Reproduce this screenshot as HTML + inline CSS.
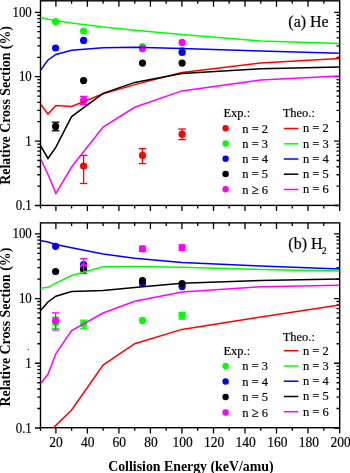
<!DOCTYPE html><html><head><meta charset="utf-8"><style>html,body{margin:0;padding:0;background:#fff;width:350px;height:473px;overflow:hidden}svg{display:block;will-change:transform}text{font-family:"Liberation Serif",serif}</style></head><body>
<svg width="350" height="473" viewBox="0 0 350 473">
<defs><clipPath id="ct"><rect x="40.5" y="0.8" width="299.2" height="204.6"/></clipPath><clipPath id="cb"><rect x="40.5" y="222.9" width="299.2" height="204.8"/></clipPath></defs>
<rect x="40.5" y="0.8" width="299.2" height="204.6" fill="none" stroke="#000" stroke-width="1.4"/>
<path d="M40.5 205.4v3.0M55.9 205.4v5.6M55.9 0.8v6.0M71.6 205.4v3.0M71.6 0.8v3.0M87.4 205.4v5.6M87.4 0.8v6.0M103.1 205.4v3.0M103.1 0.8v3.0M118.9 205.4v5.6M118.9 0.8v6.0M134.7 205.4v3.0M134.7 0.8v3.0M150.4 205.4v5.6M150.4 0.8v6.0M166.2 205.4v3.0M166.2 0.8v3.0M181.9 205.4v5.6M181.9 0.8v6.0M197.7 205.4v3.0M197.7 0.8v3.0M213.5 205.4v5.6M213.5 0.8v6.0M229.2 205.4v3.0M229.2 0.8v3.0M245.0 205.4v5.6M245.0 0.8v6.0M260.7 205.4v3.0M260.7 0.8v3.0M276.5 205.4v5.6M276.5 0.8v6.0M292.3 205.4v3.0M292.3 0.8v3.0M308.0 205.4v5.6M308.0 0.8v6.0M323.8 205.4v3.0M323.8 0.8v3.0M339.7 205.4v5.6M40.50 205.50h-5.60M339.70 205.50h-5.60M40.50 186.11h-3.20M339.70 186.11h-3.20M40.50 174.77h-3.20M339.70 174.77h-3.20M40.50 166.73h-3.20M339.70 166.73h-3.20M40.50 160.49h-3.20M339.70 160.49h-3.20M40.50 155.39h-3.20M339.70 155.39h-3.20M40.50 151.08h-3.20M339.70 151.08h-3.20M40.50 147.34h-3.20M339.70 147.34h-3.20M40.50 144.05h-3.20M339.70 144.05h-3.20M40.50 141.10h-5.60M339.70 141.10h-5.60M40.50 121.71h-3.20M339.70 121.71h-3.20M40.50 110.37h-3.20M339.70 110.37h-3.20M40.50 102.33h-3.20M339.70 102.33h-3.20M40.50 96.09h-3.20M339.70 96.09h-3.20M40.50 90.99h-3.20M339.70 90.99h-3.20M40.50 86.68h-3.20M339.70 86.68h-3.20M40.50 82.94h-3.20M339.70 82.94h-3.20M40.50 79.65h-3.20M339.70 79.65h-3.20M40.50 76.70h-5.60M339.70 76.70h-5.60M40.50 57.31h-3.20M339.70 57.31h-3.20M40.50 45.97h-3.20M339.70 45.97h-3.20M40.50 37.93h-3.20M339.70 37.93h-3.20M40.50 31.69h-3.20M339.70 31.69h-3.20M40.50 26.59h-3.20M339.70 26.59h-3.20M40.50 22.28h-3.20M339.70 22.28h-3.20M40.50 18.54h-3.20M339.70 18.54h-3.20M40.50 15.25h-3.20M339.70 15.25h-3.20M40.50 12.30h-5.60M339.70 12.30h-5.60" stroke="#000" stroke-width="1.3" fill="none"/>
<text transform="translate(31.80,16.90) scale(1,1.100)" font-size="12.90" text-anchor="end" stroke="#000" stroke-width="0.18">100</text>
<text transform="translate(31.80,81.30) scale(1,1.100)" font-size="12.90" text-anchor="end" stroke="#000" stroke-width="0.18">10</text>
<text transform="translate(31.80,145.70) scale(1,1.100)" font-size="12.90" text-anchor="end" stroke="#000" stroke-width="0.18">1</text>
<text transform="translate(31.80,210.10) scale(1,1.100)" font-size="12.90" text-anchor="end" stroke="#000" stroke-width="0.18">0.1</text>
<rect x="40.5" y="222.9" width="299.2" height="204.8" fill="none" stroke="#000" stroke-width="1.4"/>
<path d="M40.5 427.8v3.0M55.9 427.8v5.6M55.9 222.9v6.0M71.6 427.8v3.0M71.6 222.9v3.0M87.4 427.8v5.6M87.4 222.9v6.0M103.1 427.8v3.0M103.1 222.9v3.0M118.9 427.8v5.6M118.9 222.9v6.0M134.7 427.8v3.0M134.7 222.9v3.0M150.4 427.8v5.6M150.4 222.9v6.0M166.2 427.8v3.0M166.2 222.9v3.0M181.9 427.8v5.6M181.9 222.9v6.0M197.7 427.8v3.0M197.7 222.9v3.0M213.5 427.8v5.6M213.5 222.9v6.0M229.2 427.8v3.0M229.2 222.9v3.0M245.0 427.8v5.6M245.0 222.9v6.0M260.7 427.8v3.0M260.7 222.9v3.0M276.5 427.8v5.6M276.5 222.9v6.0M292.3 427.8v3.0M292.3 222.9v3.0M308.0 427.8v5.6M308.0 222.9v6.0M323.8 427.8v3.0M323.8 222.9v3.0M339.7 427.8v5.6M40.50 427.99h-5.60M339.70 427.99h-5.60M40.50 408.50h-3.20M339.70 408.50h-3.20M40.50 397.11h-3.20M339.70 397.11h-3.20M40.50 389.02h-3.20M339.70 389.02h-3.20M40.50 382.75h-3.20M339.70 382.75h-3.20M40.50 377.62h-3.20M339.70 377.62h-3.20M40.50 373.29h-3.20M339.70 373.29h-3.20M40.50 369.53h-3.20M339.70 369.53h-3.20M40.50 366.22h-3.20M339.70 366.22h-3.20M40.50 363.26h-5.60M339.70 363.26h-5.60M40.50 343.77h-3.20M339.70 343.77h-3.20M40.50 332.38h-3.20M339.70 332.38h-3.20M40.50 324.29h-3.20M339.70 324.29h-3.20M40.50 318.02h-3.20M339.70 318.02h-3.20M40.50 312.89h-3.20M339.70 312.89h-3.20M40.50 308.56h-3.20M339.70 308.56h-3.20M40.50 304.80h-3.20M339.70 304.80h-3.20M40.50 301.49h-3.20M339.70 301.49h-3.20M40.50 298.53h-5.60M339.70 298.53h-5.60M40.50 279.04h-3.20M339.70 279.04h-3.20M40.50 267.65h-3.20M339.70 267.65h-3.20M40.50 259.56h-3.20M339.70 259.56h-3.20M40.50 253.29h-3.20M339.70 253.29h-3.20M40.50 248.16h-3.20M339.70 248.16h-3.20M40.50 243.83h-3.20M339.70 243.83h-3.20M40.50 240.07h-3.20M339.70 240.07h-3.20M40.50 236.76h-3.20M339.70 236.76h-3.20M40.50 233.80h-5.60M339.70 233.80h-5.60" stroke="#000" stroke-width="1.3" fill="none"/>
<text transform="translate(31.80,238.40) scale(1,1.100)" font-size="12.90" text-anchor="end" stroke="#000" stroke-width="0.18">100</text>
<text transform="translate(31.80,303.13) scale(1,1.100)" font-size="12.90" text-anchor="end" stroke="#000" stroke-width="0.18">10</text>
<text transform="translate(31.80,367.86) scale(1,1.100)" font-size="12.90" text-anchor="end" stroke="#000" stroke-width="0.18">1</text>
<text transform="translate(31.80,432.59) scale(1,1.100)" font-size="12.90" text-anchor="end" stroke="#000" stroke-width="0.18">0.1</text>
<text transform="translate(56.11,447.30) scale(1,1.100)" font-size="13.50" text-anchor="middle" stroke="#000" stroke-width="0.18">20</text>
<text transform="translate(87.71,447.30) scale(1,1.100)" font-size="13.50" text-anchor="middle" stroke="#000" stroke-width="0.18">40</text>
<text transform="translate(119.31,447.30) scale(1,1.100)" font-size="13.50" text-anchor="middle" stroke="#000" stroke-width="0.18">60</text>
<text transform="translate(150.91,447.30) scale(1,1.100)" font-size="13.50" text-anchor="middle" stroke="#000" stroke-width="0.18">80</text>
<text transform="translate(182.51,447.30) scale(1,1.100)" font-size="13.50" text-anchor="middle" stroke="#000" stroke-width="0.18">100</text>
<text transform="translate(214.11,447.30) scale(1,1.100)" font-size="13.50" text-anchor="middle" stroke="#000" stroke-width="0.18">120</text>
<text transform="translate(245.71,447.30) scale(1,1.100)" font-size="13.50" text-anchor="middle" stroke="#000" stroke-width="0.18">140</text>
<text transform="translate(277.31,447.30) scale(1,1.100)" font-size="13.50" text-anchor="middle" stroke="#000" stroke-width="0.18">160</text>
<text transform="translate(308.91,447.30) scale(1,1.100)" font-size="13.50" text-anchor="middle" stroke="#000" stroke-width="0.18">180</text>
<text transform="translate(340.51,447.30) scale(1,1.100)" font-size="13.50" text-anchor="middle" stroke="#000" stroke-width="0.18">200</text>
<text x="190.9" y="471.2" font-size="13.85" font-weight="bold" text-anchor="middle">Collision Energy (keV/amu)</text>
<text transform="translate(10.1,105.4) rotate(-90)" font-size="13.87" font-weight="bold" text-anchor="middle">Relative Cross Section (%)</text>
<text transform="translate(10.1,327.1) rotate(-90)" font-size="13.87" font-weight="bold" text-anchor="middle">Relative Cross Section (%)</text>
<text transform="translate(288.30,27.30) scale(1,1.000)" font-size="16.00" text-anchor="start" stroke="#000" stroke-width="0.18">(a) He</text>
<text transform="translate(288.30,248.70) scale(1,1.000)" font-size="16.00" text-anchor="start" stroke="#000" stroke-width="0.18">(b) H</text>
<text transform="translate(321.70,253.90) scale(1,1.000)" font-size="9.50" text-anchor="start" stroke="#000" stroke-width="0.18">2</text>
<g stroke="#ff0000" stroke-width="1.3"><line x1="83.6" y1="155.4" x2="83.6" y2="183.5"/><line x1="79.8" y1="155.4" x2="87.4" y2="155.4"/><line x1="79.8" y1="183.5" x2="87.4" y2="183.5"/></g>
<circle cx="83.6" cy="166.0" r="3.60" fill="#ff0000"/>
<g stroke="#ff0000" stroke-width="1.3"><line x1="142.5" y1="148.6" x2="142.5" y2="163.6"/><line x1="138.7" y1="148.6" x2="146.3" y2="148.6"/><line x1="138.7" y1="163.6" x2="146.3" y2="163.6"/></g>
<circle cx="142.5" cy="155.4" r="3.60" fill="#ff0000"/>
<g stroke="#ff0000" stroke-width="1.3"><line x1="182.1" y1="129.0" x2="182.1" y2="139.6"/><line x1="178.3" y1="129.0" x2="185.9" y2="129.0"/><line x1="178.3" y1="139.6" x2="185.9" y2="139.6"/></g>
<circle cx="182.1" cy="134.2" r="3.60" fill="#ff0000"/>
<circle cx="55.6" cy="21.6" r="3.60" fill="#00ff00"/>
<circle cx="83.6" cy="31.0" r="3.60" fill="#00ff00"/>
<circle cx="142.5" cy="46.6" r="3.60" fill="#00ff00"/>
<circle cx="182.1" cy="50.4" r="3.60" fill="#00ff00"/>
<circle cx="55.6" cy="48.0" r="3.60" fill="#0000ff"/>
<circle cx="83.6" cy="40.4" r="3.60" fill="#0000ff"/>
<circle cx="182.1" cy="52.5" r="3.60" fill="#0000ff"/>
<g stroke="#000000" stroke-width="1.3"><line x1="55.6" y1="122.2" x2="55.6" y2="130.8"/><line x1="51.8" y1="122.2" x2="59.4" y2="122.2"/><line x1="51.8" y1="130.8" x2="59.4" y2="130.8"/></g>
<circle cx="55.6" cy="126.4" r="3.60" fill="#000000"/>
<circle cx="83.6" cy="80.6" r="3.60" fill="#000000"/>
<circle cx="142.5" cy="63.1" r="3.60" fill="#000000"/>
<circle cx="182.1" cy="63.1" r="3.60" fill="#000000"/>
<g stroke="#ff00ff" stroke-width="1.3"><line x1="83.6" y1="96.4" x2="83.6" y2="104.5"/><line x1="79.8" y1="96.4" x2="87.4" y2="96.4"/><line x1="79.8" y1="104.5" x2="87.4" y2="104.5"/></g>
<circle cx="83.6" cy="100.4" r="3.60" fill="#ff00ff"/>
<circle cx="142.5" cy="48.7" r="3.60" fill="#ff00ff"/>
<circle cx="182.1" cy="42.4" r="3.60" fill="#ff00ff"/>
<polyline points="40.1,103.5 48.0,114.0 55.9,105.4 71.6,106.5 103.1,93.7 134.7,84.6 181.9,72.5 260.7,63.1 339.5,58.4" fill="none" stroke="#ff0000" stroke-width="1.50" stroke-linejoin="miter" clip-path="url(#ct)"/>
<polyline points="40.1,17.5 48.0,19.2 55.9,20.5 71.6,23.0 103.1,27.0 134.7,30.2 181.9,34.5 260.7,41.0 339.5,43.5" fill="none" stroke="#00ff00" stroke-width="1.50" stroke-linejoin="miter" clip-path="url(#ct)"/>
<polyline points="40.1,70.8 48.0,60.0 55.9,54.5 71.6,50.3 103.1,47.8 134.7,47.2 181.9,48.5 260.7,51.0 339.5,53.2" fill="none" stroke="#0000ff" stroke-width="1.50" stroke-linejoin="miter" clip-path="url(#ct)"/>
<polyline points="40.1,145.0 48.0,158.5 55.9,147.2 71.6,116.6 103.1,93.4 134.7,82.4 181.9,73.6 260.7,68.7 339.5,67.0" fill="none" stroke="#000000" stroke-width="1.50" stroke-linejoin="miter" clip-path="url(#ct)"/>
<polyline points="40.1,157.5 48.0,174.5 55.9,193.4 71.6,167.0 103.1,127.0 134.7,107.3 181.9,90.9 260.7,80.0 339.5,76.0" fill="none" stroke="#ff00ff" stroke-width="1.50" stroke-linejoin="miter" clip-path="url(#ct)"/>
<g stroke="#00ff00" stroke-width="1.3"><line x1="55.6" y1="317.2" x2="55.6" y2="328.3"/><line x1="51.8" y1="317.2" x2="59.4" y2="317.2"/><line x1="51.8" y1="328.3" x2="59.4" y2="328.3"/></g>
<circle cx="55.6" cy="322.8" r="3.60" fill="#00ff00"/>
<g stroke="#00ff00" stroke-width="1.3"><line x1="83.6" y1="320.2" x2="83.6" y2="328.3"/><line x1="79.8" y1="320.2" x2="87.4" y2="320.2"/><line x1="79.8" y1="328.3" x2="87.4" y2="328.3"/></g>
<circle cx="83.6" cy="324.0" r="3.60" fill="#00ff00"/>
<circle cx="142.5" cy="320.4" r="3.60" fill="#00ff00"/>
<g stroke="#00ff00" stroke-width="1.3"><line x1="182.1" y1="312.4" x2="182.1" y2="319.1"/><line x1="178.3" y1="312.4" x2="185.9" y2="312.4"/><line x1="178.3" y1="319.1" x2="185.9" y2="319.1"/></g>
<circle cx="182.1" cy="315.7" r="3.60" fill="#00ff00"/>
<circle cx="55.6" cy="246.3" r="3.60" fill="#0000ff"/>
<circle cx="83.6" cy="264.7" r="3.60" fill="#0000ff"/>
<circle cx="142.5" cy="283.5" r="3.60" fill="#0000ff"/>
<circle cx="182.1" cy="286.4" r="3.60" fill="#0000ff"/>
<circle cx="83.6" cy="266.9" r="3.60" fill="#ff00ff"/>
<circle cx="55.6" cy="271.5" r="3.60" fill="#000000"/>
<circle cx="83.6" cy="269.6" r="3.60" fill="#000000"/>
<circle cx="142.5" cy="280.5" r="3.60" fill="#000000"/>
<circle cx="182.1" cy="283.5" r="3.60" fill="#000000"/>
<g stroke="#ff00ff" stroke-width="1.3"><line x1="55.6" y1="312.9" x2="55.6" y2="330.0"/><line x1="51.8" y1="312.9" x2="59.4" y2="312.9"/><line x1="51.8" y1="330.0" x2="59.4" y2="330.0"/></g>
<circle cx="55.6" cy="320.6" r="3.60" fill="#ff00ff"/>
<g stroke="#ff00ff" stroke-width="1.3"><line x1="83.6" y1="258.7" x2="83.6" y2="273.6"/><line x1="79.8" y1="258.7" x2="87.4" y2="258.7"/><line x1="79.8" y1="273.6" x2="87.4" y2="273.6"/></g>
<g stroke="#ff00ff" stroke-width="1.3"><line x1="142.5" y1="246.2" x2="142.5" y2="251.4"/><line x1="138.7" y1="246.2" x2="146.3" y2="246.2"/><line x1="138.7" y1="251.4" x2="146.3" y2="251.4"/></g>
<circle cx="142.5" cy="248.9" r="3.60" fill="#ff00ff"/>
<g stroke="#ff00ff" stroke-width="1.3"><line x1="182.1" y1="245.0" x2="182.1" y2="250.2"/><line x1="178.3" y1="245.0" x2="185.9" y2="245.0"/><line x1="178.3" y1="250.2" x2="185.9" y2="250.2"/></g>
<circle cx="182.1" cy="247.6" r="3.60" fill="#ff00ff"/>
<polyline points="48.0,433.0 71.6,410.0 103.1,365.1 134.7,343.7 181.9,329.4 260.7,317.0 339.5,305.0" fill="none" stroke="#ff0000" stroke-width="1.5" clip-path="url(#cb)"/>
<polyline points="40.1,288.2 48.0,287.3 55.9,283.2 71.6,275.5 103.1,266.7 134.7,266.5 181.9,267.2 260.7,269.5 339.5,271.1" fill="none" stroke="#00ff00" stroke-width="1.50" stroke-linejoin="miter" clip-path="url(#cb)"/>
<polyline points="40.1,240.5 48.0,242.0 55.9,244.5 71.6,247.7 103.1,254.0 134.7,258.2 181.9,262.5 260.7,266.0 339.5,268.9" fill="none" stroke="#0000ff" stroke-width="1.50" stroke-linejoin="miter" clip-path="url(#cb)"/>
<polyline points="40.1,311.0 48.0,302.0 55.9,296.2 71.6,291.5 103.1,290.6 134.7,287.5 181.9,283.3 260.7,280.5 339.5,279.1" fill="none" stroke="#000000" stroke-width="1.50" stroke-linejoin="miter" clip-path="url(#cb)"/>
<polyline points="40.1,384.2 48.0,374.3 55.9,353.5 71.6,330.5 103.1,313.0 134.7,301.2 181.9,292.0 260.7,286.7 339.5,285.2" fill="none" stroke="#ff00ff" stroke-width="1.50" stroke-linejoin="miter" clip-path="url(#cb)"/>
<circle cx="28.3" cy="349.5" r="0.75" fill="#ff0000"/>
<text transform="translate(223.40,117.20) scale(1,1.080)" font-size="12.50" text-anchor="start" stroke="#000" stroke-width="0.18">Exp.:</text>
<circle cx="225.6" cy="128.3" r="3.2" fill="#ff0000"/>
<text transform="translate(242.30,132.60) scale(1,1.080)" font-size="12.50" text-anchor="start" stroke="#000" stroke-width="0.18">n = 2</text>
<circle cx="225.6" cy="143.5" r="3.2" fill="#00ff00"/>
<text transform="translate(242.30,147.85) scale(1,1.080)" font-size="12.50" text-anchor="start" stroke="#000" stroke-width="0.18">n = 3</text>
<circle cx="225.6" cy="158.8" r="3.2" fill="#0000ff"/>
<text transform="translate(242.30,163.10) scale(1,1.080)" font-size="12.50" text-anchor="start" stroke="#000" stroke-width="0.18">n = 4</text>
<circle cx="225.6" cy="174.0" r="3.2" fill="#000000"/>
<text transform="translate(242.30,178.35) scale(1,1.080)" font-size="12.50" text-anchor="start" stroke="#000" stroke-width="0.18">n = 5</text>
<circle cx="225.6" cy="189.3" r="3.2" fill="#ff00ff"/>
<text transform="translate(242.30,193.60) scale(1,1.080)" font-size="12.50" text-anchor="start" stroke="#000" stroke-width="0.18">n &#8805; 6</text>
<text transform="translate(282.70,117.00) scale(1,1.080)" font-size="12.50" text-anchor="start" stroke="#000" stroke-width="0.18">Theo.:</text>
<line x1="283.8" y1="128.5" x2="298.4" y2="128.5" stroke="#ff0000" stroke-width="1.5"/>
<text transform="translate(303.00,132.40) scale(1,1.080)" font-size="12.50" text-anchor="start" stroke="#000" stroke-width="0.18">n = 2</text>
<line x1="283.8" y1="143.8" x2="298.4" y2="143.8" stroke="#00ff00" stroke-width="1.5"/>
<text transform="translate(303.00,147.65) scale(1,1.080)" font-size="12.50" text-anchor="start" stroke="#000" stroke-width="0.18">n = 3</text>
<line x1="283.8" y1="159.0" x2="298.4" y2="159.0" stroke="#0000ff" stroke-width="1.5"/>
<text transform="translate(303.00,162.90) scale(1,1.080)" font-size="12.50" text-anchor="start" stroke="#000" stroke-width="0.18">n = 4</text>
<line x1="283.8" y1="174.2" x2="298.4" y2="174.2" stroke="#000000" stroke-width="1.5"/>
<text transform="translate(303.00,178.15) scale(1,1.080)" font-size="12.50" text-anchor="start" stroke="#000" stroke-width="0.18">n = 5</text>
<line x1="283.8" y1="189.5" x2="298.4" y2="189.5" stroke="#ff00ff" stroke-width="1.5"/>
<text transform="translate(303.00,193.40) scale(1,1.080)" font-size="12.50" text-anchor="start" stroke="#000" stroke-width="0.18">n = 6</text>
<text transform="translate(223.40,355.00) scale(1,1.080)" font-size="12.50" text-anchor="start" stroke="#000" stroke-width="0.18">Exp.:</text>
<circle cx="225.6" cy="366.0" r="3.2" fill="#00ff00"/>
<text transform="translate(242.30,370.30) scale(1,1.080)" font-size="12.50" text-anchor="start" stroke="#000" stroke-width="0.18">n = 3</text>
<circle cx="225.6" cy="381.5" r="3.2" fill="#0000ff"/>
<text transform="translate(242.30,385.80) scale(1,1.080)" font-size="12.50" text-anchor="start" stroke="#000" stroke-width="0.18">n = 4</text>
<circle cx="225.6" cy="397.0" r="3.2" fill="#000000"/>
<text transform="translate(242.30,401.30) scale(1,1.080)" font-size="12.50" text-anchor="start" stroke="#000" stroke-width="0.18">n = 5</text>
<circle cx="225.6" cy="412.5" r="3.2" fill="#ff00ff"/>
<text transform="translate(242.30,416.80) scale(1,1.080)" font-size="12.50" text-anchor="start" stroke="#000" stroke-width="0.18">n &#8805; 6</text>
<text transform="translate(282.70,341.10) scale(1,1.080)" font-size="12.50" text-anchor="start" stroke="#000" stroke-width="0.18">Theo.:</text>
<line x1="283.8" y1="350.7" x2="298.4" y2="350.7" stroke="#ff0000" stroke-width="1.5"/>
<text transform="translate(303.00,354.60) scale(1,1.080)" font-size="12.50" text-anchor="start" stroke="#000" stroke-width="0.18">n = 2</text>
<line x1="283.8" y1="366.0" x2="298.4" y2="366.0" stroke="#00ff00" stroke-width="1.5"/>
<text transform="translate(303.00,369.85) scale(1,1.080)" font-size="12.50" text-anchor="start" stroke="#000" stroke-width="0.18">n = 3</text>
<line x1="283.8" y1="381.2" x2="298.4" y2="381.2" stroke="#0000ff" stroke-width="1.5"/>
<text transform="translate(303.00,385.10) scale(1,1.080)" font-size="12.50" text-anchor="start" stroke="#000" stroke-width="0.18">n = 4</text>
<line x1="283.8" y1="396.5" x2="298.4" y2="396.5" stroke="#000000" stroke-width="1.5"/>
<text transform="translate(303.00,400.35) scale(1,1.080)" font-size="12.50" text-anchor="start" stroke="#000" stroke-width="0.18">n = 5</text>
<line x1="283.8" y1="411.7" x2="298.4" y2="411.7" stroke="#ff00ff" stroke-width="1.5"/>
<text transform="translate(303.00,415.60) scale(1,1.080)" font-size="12.50" text-anchor="start" stroke="#000" stroke-width="0.18">n = 6</text>
</svg></body></html>
